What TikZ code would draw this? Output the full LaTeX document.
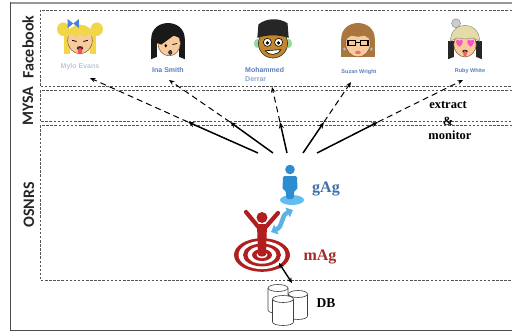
\documentclass[tikz,border=0pt]{standalone}
\usepackage{fontspec}
\setmainfont{Liberation Serif}
\newfontfamily\sidefont{Carlito}
\newfontfamily\namefont{Liberation Sans}
\usetikzlibrary{arrows.meta}

\definecolor{zonegray}{HTML}{555555}
\definecolor{namecol}{HTML}{5A7DBE}
\definecolor{namefaint}{HTML}{BCC6DC}
\definecolor{skin}{HTML}{F7CB9C}
\definecolor{skinline}{HTML}{7A5430}
\definecolor{hairyellow}{HTML}{F1D64A}
\definecolor{hairbrown}{HTML}{A9773D}
\definecolor{hairpale}{HTML}{E3DBA8}
\definecolor{darkskin}{HTML}{C4862A}
\definecolor{bowblue}{HTML}{4A7FE0}
\definecolor{heartpink}{HTML}{FF4FC8}
\definecolor{gagblue}{HTML}{3D6FA8}
\definecolor{personblue}{HTML}{2C8CD2}
\definecolor{baseblue}{HTML}{62BDF0}
\definecolor{swapblue}{HTML}{5DB2E4}
\definecolor{magred}{HTML}{A52A2A}
\definecolor{targetred}{HTML}{B01E1E}

% one database cylinder: centre x, top y, half width, height
\newcommand\dbcyl[4]{%
  \fill[white] ({#1-#3},#2) rectangle ({#1+#3},{#2+#4});
  \fill[white] (#1,{#2+#4}) ellipse [x radius=#3, y radius=3.5];
  \draw[black!75, line width=0.6pt] ({#1-#3},#2) -- ({#1-#3},{#2+#4})
     arc[start angle=180, end angle=0, x radius=#3, y radius=3.5] -- ({#1+#3},#2);
  \filldraw[fill=white, draw=black!75, line width=0.6pt] (#1,#2) ellipse [x radius=#3, y radius=3.5];
}

\tikzset{
  zone/.style={draw=zonegray, dash pattern=on 2.5pt off 1.6pt, line width=0.7pt},
  sidelabel/.style={font=\sidefont\bfseries\fontsize{16}{16}\selectfont, rotate=90, text=black!85, inner sep=0pt},
  solidarrow/.style={line width=1.5pt, -{Stealth[length=6.5pt,width=5pt]}},
  dasharrow/.style={line width=1pt, dash pattern=on 6pt off 4pt, -{Stealth[length=5.5pt,width=4.5pt]}},
  tag/.style={font=\bfseries\fontsize{16}{16}\selectfont, inner sep=0pt},
  note/.style={font=\bfseries\fontsize{12.5}{12.5}\selectfont, inner sep=0pt},
  pname/.style={font=\namefont\bfseries\fontsize{#1}{#1}\selectfont, text=namecol, inner sep=0pt, align=left},
  pname/.default=7,
  outline/.style={draw=skinline, line width=0.5pt},
  avatar/.style={scale=1.12},
}

\begin{document}
\begin{tikzpicture}[x=1pt, y=-1pt]
\useasboundingbox (0,0) rectangle (512,332);

% outer frame
\draw[black!40, line width=2pt] (10,3) -- (512,3);
\draw[black!70, line width=0.8pt] (10,2) -- (10,330.5) -- (512,330.5);

% layer zones
\draw[zone] (512,10) -- (40,10) -- (40,86.7) -- (512,86.7);
\draw[zone] (512,90.7) -- (40,90.7) -- (40,121.7) -- (512,121.7);
\draw[zone] (512,125.7) -- (40,125.7) -- (40,280) -- (512,280);

% layer labels
\node[sidelabel] (lfb) at (28,47) {Facebook};
\node[sidelabel] (lmysa) at (28,106) {MYSA};
\node[sidelabel] (losnrs) at (29,205) {OSNRS};

% ---------- avatars ----------
% 1: blonde girl with pigtails
\begin{scope}[shift={(80,37)}, avatar]
  \fill[hairyellow] (-15,-7) ellipse [x radius=5.5, y radius=6];
  \fill[hairyellow] (15,-7) ellipse [x radius=5.5, y radius=6];
  \fill[hairyellow] (-14.5,-3) rectangle (-9,15);
  \fill[hairyellow] (9,-3) rectangle (14.5,15);
  \filldraw[fill=skin, outline] (0,3) ellipse [x radius=11, y radius=12];
  \fill[hairyellow] (-12,1) .. controls (-13,-15) and (13,-15) .. (12,1)
     -- (8,-3) -- (4,0) -- (0,-3) -- (-4,0) -- (-8,-3) -- cycle;
  \fill[bowblue] (-6,-12) -- (-11,-16) -- (-11,-8) -- cycle;
  \fill[bowblue] (-6,-12) -- (-1,-16) -- (-1,-8) -- cycle;
  \draw[black, line width=0.8pt] (-7,3) -- (-3,4);
  \draw[black, line width=0.8pt] (3,4) -- (7,3);
  \fill[black!80] (0,10) ellipse [x radius=3, y radius=1.8];
  \fill[red!60!pink] (0,12.5) ellipse [x radius=2, y radius=2.6];
\end{scope}
% 2: long black hair
\begin{scope}[shift={(168,39)}, avatar]
  \fill[black!90] (-15,18) -- (-15,0) .. controls (-15,-19) and (15,-19) .. (15,0)
     -- (15,18) -- (10,16) -- (10,4) -- (-10,4) -- (-10,16) -- cycle;
  \filldraw[fill=skin, outline] (1,4) ellipse [x radius=10, y radius=11];
  \fill[black!90] (-11,3) .. controls (-10,-11) and (8,-11) .. (11,-1)
     -- (5,-3) -- (-6,5) -- cycle;
  \fill[black] (-2,6) ellipse [x radius=1.2, y radius=1.6];
  \draw[black, line width=0.7pt] (4,5) -- (8,4);
  \filldraw[fill=black!70, draw=black] (2,12) ellipse [x radius=1.5, y radius=1.8];
\end{scope}
% 3: dark face with black cap
\begin{scope}[shift={(273,39)}, avatar]
  \fill[black!40!green!40] (-14,4) ellipse [x radius=3, y radius=4];
  \fill[black!40!green!40] (14,4) ellipse [x radius=3, y radius=4];
  \filldraw[fill=darkskin, draw=black!80, line width=0.6pt] (0,4) ellipse [x radius=13, y radius=13];
  \fill[black!85] (-14,-1) -- (-13,-13) .. controls (-6,-19) and (6,-19) .. (13,-14)
     -- (14,-1) .. controls (5,-4) and (-5,-4) .. cycle;
  \filldraw[fill=white, draw=black, line width=0.6pt] (-5,3) circle [radius=3.6];
  \filldraw[fill=white, draw=black, line width=0.6pt] (5,3) circle [radius=3.6];
  \fill[black] (-5,3.5) circle [radius=1.6];
  \fill[black] (5,3.5) circle [radius=1.6];
  \filldraw[fill=white, draw=black, line width=0.6pt] (-7,10.5) -- (7,9.5)
     .. controls (4,15) and (-4,15) .. cycle;
\end{scope}
% 4: brown hair and glasses
\begin{scope}[shift={(358,39)}, avatar]
  \fill[hairbrown] (-15,16) -- (-15,0) .. controls (-15,-19) and (15,-19) .. (15,0)
     -- (15,16) -- cycle;
  \filldraw[fill=skin, outline] (0,4) ellipse [x radius=11, y radius=12];
  \fill[hairbrown] (-12,1) .. controls (-10,-11) and (10,-11) .. (12,1)
     -- (6,-3) -- (0,-2) -- (-6,-3) -- cycle;
  \draw[black, line width=1.2pt] (-9,1) rectangle (-2,6);
  \draw[black, line width=1.2pt] (2,1) rectangle (9,6);
  \draw[black, line width=1pt] (-2,3) -- (2,3);
  \fill[red!45!pink] (0,12) ellipse [x radius=2.5, y radius=1.6];
  \fill[black!30] (-12,9) circle [radius=1.5];
  \fill[black!30] (12,9) circle [radius=1.5];
\end{scope}
% 5: pale beanie and heart eyes
\begin{scope}[shift={(465,39)}, avatar]
  \fill[black!85] (-15,18) -- (-15,2) -- (15,2) -- (15,18) -- (10,16) -- (10,6)
     -- (-10,6) -- (-10,16) -- cycle;
  \filldraw[fill=skin, outline] (0,5) ellipse [x radius=10, y radius=11];
  \filldraw[fill=black!20, draw=black!50, line width=0.4pt] (-8,-14) circle [radius=4];
  \filldraw[fill=hairpale, draw=black!50, line width=0.4pt] (-13,2)
     .. controls (-13,-17) and (13,-17) .. (13,2) -- (7,-1) -- (0,0) -- (-7,-1) -- cycle;
  \fill[heartpink] (-5,7) .. controls (-10,3) and (-8,-1) .. (-5,1.5)
     .. controls (-2,-1) and (0,3) .. cycle;
  \fill[heartpink] (5,7) .. controls (0,3) and (2,-1) .. (5,1.5)
     .. controls (8,-1) and (10,3) .. cycle;
  \fill[black!80] (0,11) ellipse [x radius=2.5, y radius=1.4];
  \fill[red!65] (0,13) ellipse [x radius=1.6, y radius=2.4];
\end{scope}

% names
\node[pname, text=namefaint] (n1) at (80,67) {Mylo Evans};
\node[pname] (n2) at (168,70) {Ina Smith};
\node[pname, anchor=west] (n3) at (245,70) {Mohammed};
\node[pname, anchor=west, text=namecol!70] (n3b) at (245,79) {Derrar};
\node[pname=5.5] (n4) at (359,72) {Suzan Wright};
\node[pname=5.5] (n5) at (470,71) {Ruby White};

% ---------- agents ----------
% base of the global agent
\fill[baseblue] (292,200) ellipse [x radius=12, y radius=5];
% global agent figure
\fill[personblue] (290,169.5) circle [radius=4.8];
\fill[personblue, rounded corners=1.5pt] (283,176) -- (297,176) -- (297.5,190)
  -- (294.5,190) -- (293.5,199) -- (286.5,199) -- (285.5,190) -- (282.5,190) -- cycle;
\node[tag, text=gagblue] (gag) at (326,189) {gAg};

% target rings of the main agent
\foreach \r/\c in {28/targetred, 23.5/white, 19/targetred, 14.5/white, 10/targetred, 5.5/white, 2.5/targetred}
  \fill[\c] (262,255) ellipse [x radius=\r, y radius={\r*0.6}];
% main agent figure
\draw[targetred, line width=4.2pt, line cap=round] (260,229) -- (246,212);
\draw[targetred, line width=4.2pt, line cap=round] (264,229) -- (278,213);
\fill[targetred] (262,217.5) circle [radius=5.5];
\fill[targetred, rounded corners=1.5pt] (257,224) -- (267,224) -- (266,256) -- (258,256) -- cycle;
\node[tag, text=magred] (mag) at (320,257) {mAg};

% exchange between the agents
\coordinate (ma) at (271,232);
\coordinate (ga) at (293,210);
\draw[swapblue, line width=4.5pt, {Triangle[length=6pt,width=10.5pt]}-{Triangle[length=6pt,width=10.5pt]}]
  (ma) .. controls (284,226) and (280,216) .. (ga);

% database
\dbcyl{278}{288}{10}{22}
\dbcyl{298}{294}{9.5}{22}
\dbcyl{283}{299}{10.5}{23}
\coordinate (dbtop) at (292,283);
\coordinate (magdb) at (279,263);
\draw[line width=1.4pt, {Stealth[length=5.5pt,width=5pt]}-{Stealth[length=5.5pt,width=5pt]}] (magdb) -- (dbtop);
\node[tag, font=\bfseries\fontsize{13.5}{13.5}\selectfont] (db) at (326,303) {DB};

% extract & monitor
\node[note] (ex) at (448,105) {extract};
\node[note] (amp) at (448,121) {\&};
\node[note] (mon) at (450,135) {monitor};

% ---------- monitoring arrows ----------
\coordinate (s1) at (258,153); \coordinate (m1) at (188,122); \coordinate (t1) at (90,78);
\coordinate (s2) at (273,153); \coordinate (m2) at (230,122); \coordinate (t2) at (169,80);
\coordinate (s3) at (287,153); \coordinate (m3) at (280,122); \coordinate (t3) at (272,87);
\coordinate (s4) at (303,153); \coordinate (m4) at (324,122); \coordinate (t4) at (351,82);
\coordinate (s5) at (317,153); \coordinate (m5) at (378,122); \coordinate (t5) at (463,80);
\foreach \i in {1,...,5} {
  \draw[dasharrow] (m\i) -- (t\i);
  \draw[solidarrow] (s\i) -- (m\i);
}
\end{tikzpicture}
\end{document}
